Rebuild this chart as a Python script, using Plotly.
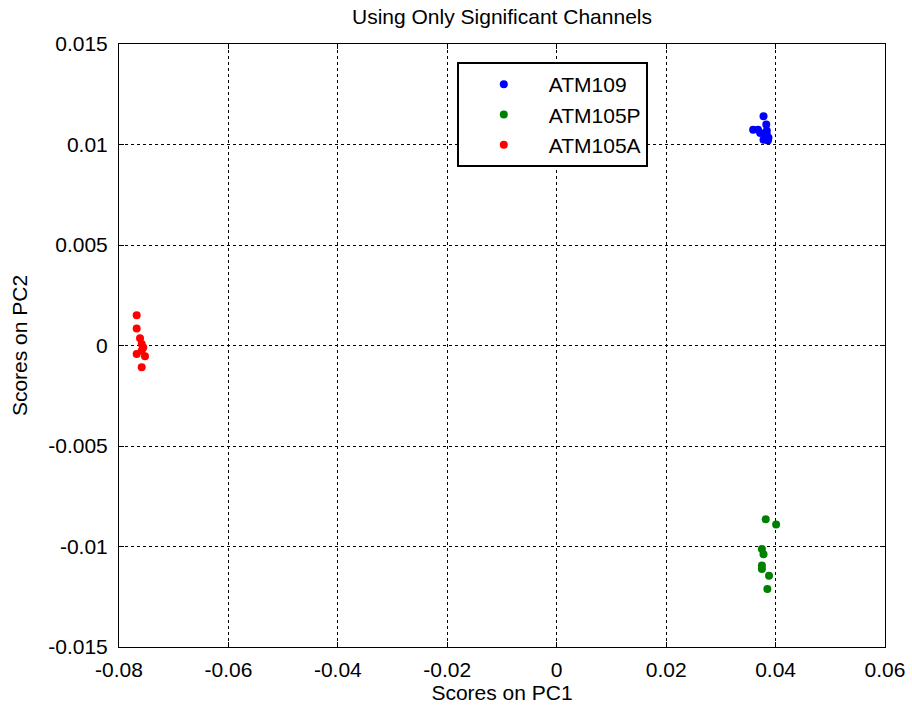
import plotly.graph_objects as go

# ATM109 (blue)
atm109_x = [0.0378, 0.0383, 0.0359, 0.0372, 0.0384, 0.0378, 0.0387, 0.0368, 0.0384, 0.0386]
atm109_y = [0.0114, 0.0110, 0.01074, 0.01057, 0.01049, 0.01024, 0.01034, 0.01074, 0.01069, 0.0102]

# ATM105P (green)
atm105p_x = [0.0382, 0.0401, 0.0375, 0.0378, 0.0375, 0.0375, 0.0388, 0.0385]
atm105p_y = [-0.00865, -0.0089, -0.01013, -0.01039, -0.01095, -0.01112, -0.01146, -0.01212]

# ATM105A (red)
atm105a_x = [-0.07677, -0.07677, -0.07616, -0.07585, -0.07556, -0.07677, -0.07525, -0.07585, -0.07585]
atm105a_y = [0.00151, 0.00085, 0.00036, 0.00007, -0.0001, -0.00042, -0.00054, -0.00026, -0.00108]

x_ticks = [-0.08, -0.06, -0.04, -0.02, 0, 0.02, 0.04, 0.06]
x_tick_labels = ["-0.08", "-0.06", "-0.04", "-0.02", "0", "0.02", "0.04", "0.06"]
y_ticks = [-0.015, -0.01, -0.005, 0, 0.005, 0.01, 0.015]
y_tick_labels = ["-0.015", "-0.01", "-0.005", "0", "0.005", "0.01", "0.015"]

series = [
    ("ATM109", atm109_x, atm109_y, "#0000ff"),
    ("ATM105P", atm105p_x, atm105p_y, "#008000"),
    ("ATM105A", atm105a_x, atm105a_y, "#ff0000"),
]

FONT = "Liberation Sans, Arial, sans-serif"
FS = 21

fig = go.Figure()
for i, (name, xs, ys, col) in enumerate(series):
    fig.add_trace(go.Scatter(
        x=xs, y=ys, mode="markers", name=name,
        marker=dict(color=col, size=8, line=dict(width=0)),
    ))

axis_common = dict(
    showline=True, linecolor="black", linewidth=1, mirror="ticks",
    ticks="inside", ticklen=5, tickcolor="black",
    showgrid=True, gridcolor="black", griddash="dot", gridwidth=1,
    zeroline=False, automargin=False,
    tickfont=dict(family=FONT, size=FS, color="black"),
)

fig.update_xaxes(range=[-0.08, 0.06], tickvals=x_ticks, ticktext=x_tick_labels,
                 ticklabelstandoff=4,
                 title=dict(text="Scores on PC1", font=dict(family=FONT, size=FS, color="black"), standoff=2),
                 **axis_common)
fig.update_yaxes(range=[-0.015, 0.015], tickvals=y_ticks, ticktext=y_tick_labels,
                 ticklabelstandoff=6,
                 title=dict(text="Scores on PC2", font=dict(family=FONT, size=FS, color="black"), standoff=14),
                 **axis_common)

fig.update_layout(
    width=912, height=709,
    margin=dict(l=119, r=27, t=44, b=62),
    paper_bgcolor="white", plot_bgcolor="white",
    title=dict(text="Using Only Significant Channels", x=0.5, xanchor="center",
               xref="paper", y=1, yref="container", yanchor="top", pad=dict(t=9),
               font=dict(family=FONT, size=FS, color="black")),
    legend=dict(x=0.441, y=0.970, xanchor="left", yanchor="top",
                bgcolor="white", bordercolor="black", borderwidth=2,
                font=dict(family=FONT, size=FS, color="black"),
                itemwidth=80, tracegroupgap=0),
    showlegend=True,
)

fig.write_html("out.html")
